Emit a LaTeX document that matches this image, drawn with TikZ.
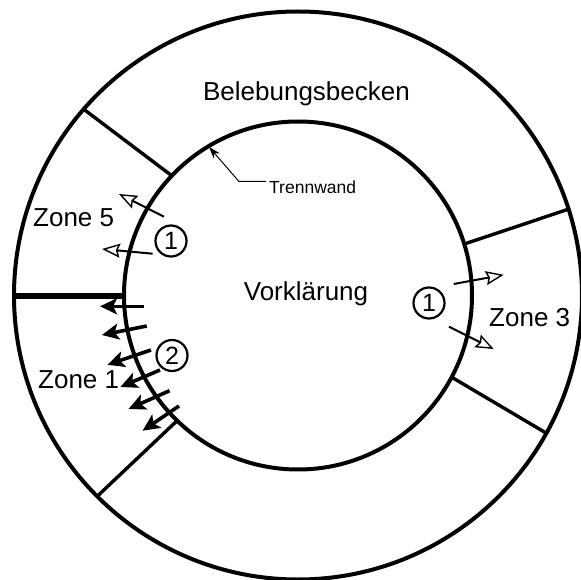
\documentclass[tikz,border=0pt]{standalone}
\usepackage{fontspec}
\setmainfont{Liberation Sans}
\usetikzlibrary{arrows.meta,calc}
\begin{document}
\begin{tikzpicture}[x=1pt,y=-1pt,
 wall/.style={line width=3.4pt},
 ring/.style={line width=4pt},
 lbl/.style={font=\fontsize{26}{30}\selectfont, inner sep=0pt, anchor=base west},
 openarrow/.style={line width=2pt, -{Stealth[open, length=18pt, width=14pt, inset=2.5pt, line width=1.4pt]}},
 fillarrow/.style={line width=3.6pt, -{Stealth[length=17pt, width=16pt, inset=4pt]}},
 num/.style={circle, draw, line width=2.2pt, minimum size=31pt, inner sep=0pt, font=\fontsize{25}{25}\selectfont},
]
\useasboundingbox (0,0) rectangle (581,580);
\coordinate (c) at (298,295.5);
\draw[ring] (c) circle[radius=284pt];
\draw[ring] (c) circle[radius=174pt];
% dividers
\draw[wall] ($(c)+(136.5:174pt)$) coordinate (d1i) -- ($(c)+(139:284pt)$) coordinate (d1o);
\draw[wall] ($(c)+(17.2:174pt)$) coordinate (d2i) -- ($(c)+(17.7:284pt)$) coordinate (d2o);
\draw[wall] ($(c)+(-28:174pt)$) coordinate (d3i) -- ($(c)+(-29:284pt)$) coordinate (d3o);
\draw[wall] ($(c)+(226:174pt)$) coordinate (d4i) -- ($(c)+(225:284pt)$) coordinate (d4o);
\draw[line width=6pt] ($(c)+(180:174pt)$) coordinate (d5i) -- ($(c)+(180:284pt)$) coordinate (d5o);
% labels
\node[lbl, anchor=base] (bb) at (306.5,100.7) {Belebungsbecken};
\node[lbl, anchor=base] (vk) at (306,300.7) {Vorklärung};
\node[lbl] (z5) at (33,226.7) {Zone 5};
\node[lbl] (z1) at (38,388) {Zone 1};
\node[lbl] (z3) at (489,326) {Zone 3};
\node[inner sep=0pt, anchor=base west, font=\fontsize{17.5}{20}\selectfont] (tw) at (269,193.3) {Trennwand};
% Trennwand leader
\coordinate (twtip) at (209,147);
\coordinate (twk) at (239,181.5);
\coordinate (twe) at (266,181.5);
\draw[line width=1pt, {Stealth[length=12pt,width=8pt]}-] (twtip) -- (twk) -- (twe);
% circled numbers
\node[num] (n1a) at (171,241) {1};
\node[num] (n1b) at (429,303) {1};
\node[num] (n2) at (172,355.5) {2};
% open arrows
\coordinate (a1s) at (164,216.7); \coordinate (a1e) at (119,194);
\coordinate (a2s) at (152.6,253.7); \coordinate (a2e) at (102,249);
\coordinate (a3s) at (453.7,284); \coordinate (a3e) at (503.7,274.8);
\coordinate (a4s) at (449,326.7); \coordinate (a4e) at (493.7,349);
\draw[openarrow] (a1s) -- (a1e);
\draw[openarrow] (a2s) -- (a2e);
\draw[openarrow] (a3s) -- (a3e);
\draw[openarrow] (a4s) -- (a4e);
% filled arrows
\coordinate (f1s) at (144.4,306.3); \coordinate (f1e) at (100,306.3);
\coordinate (f2s) at (146.7,326); \coordinate (f2e) at (101.9,335);
\coordinate (f3s) at (151,350); \coordinate (f3e) at (107.4,364.8);
\coordinate (f4s) at (160,370); \coordinate (f4e) at (120.4,387);
\coordinate (f5s) at (169.6,390.7); \coordinate (f5e) at (128.5,409);
\coordinate (f6s) at (179,406); \coordinate (f6e) at (142.6,430.7);
\foreach \i in {1,...,6} \draw[fillarrow] (f\i s) -- (f\i e);
\end{tikzpicture}
\end{document}
